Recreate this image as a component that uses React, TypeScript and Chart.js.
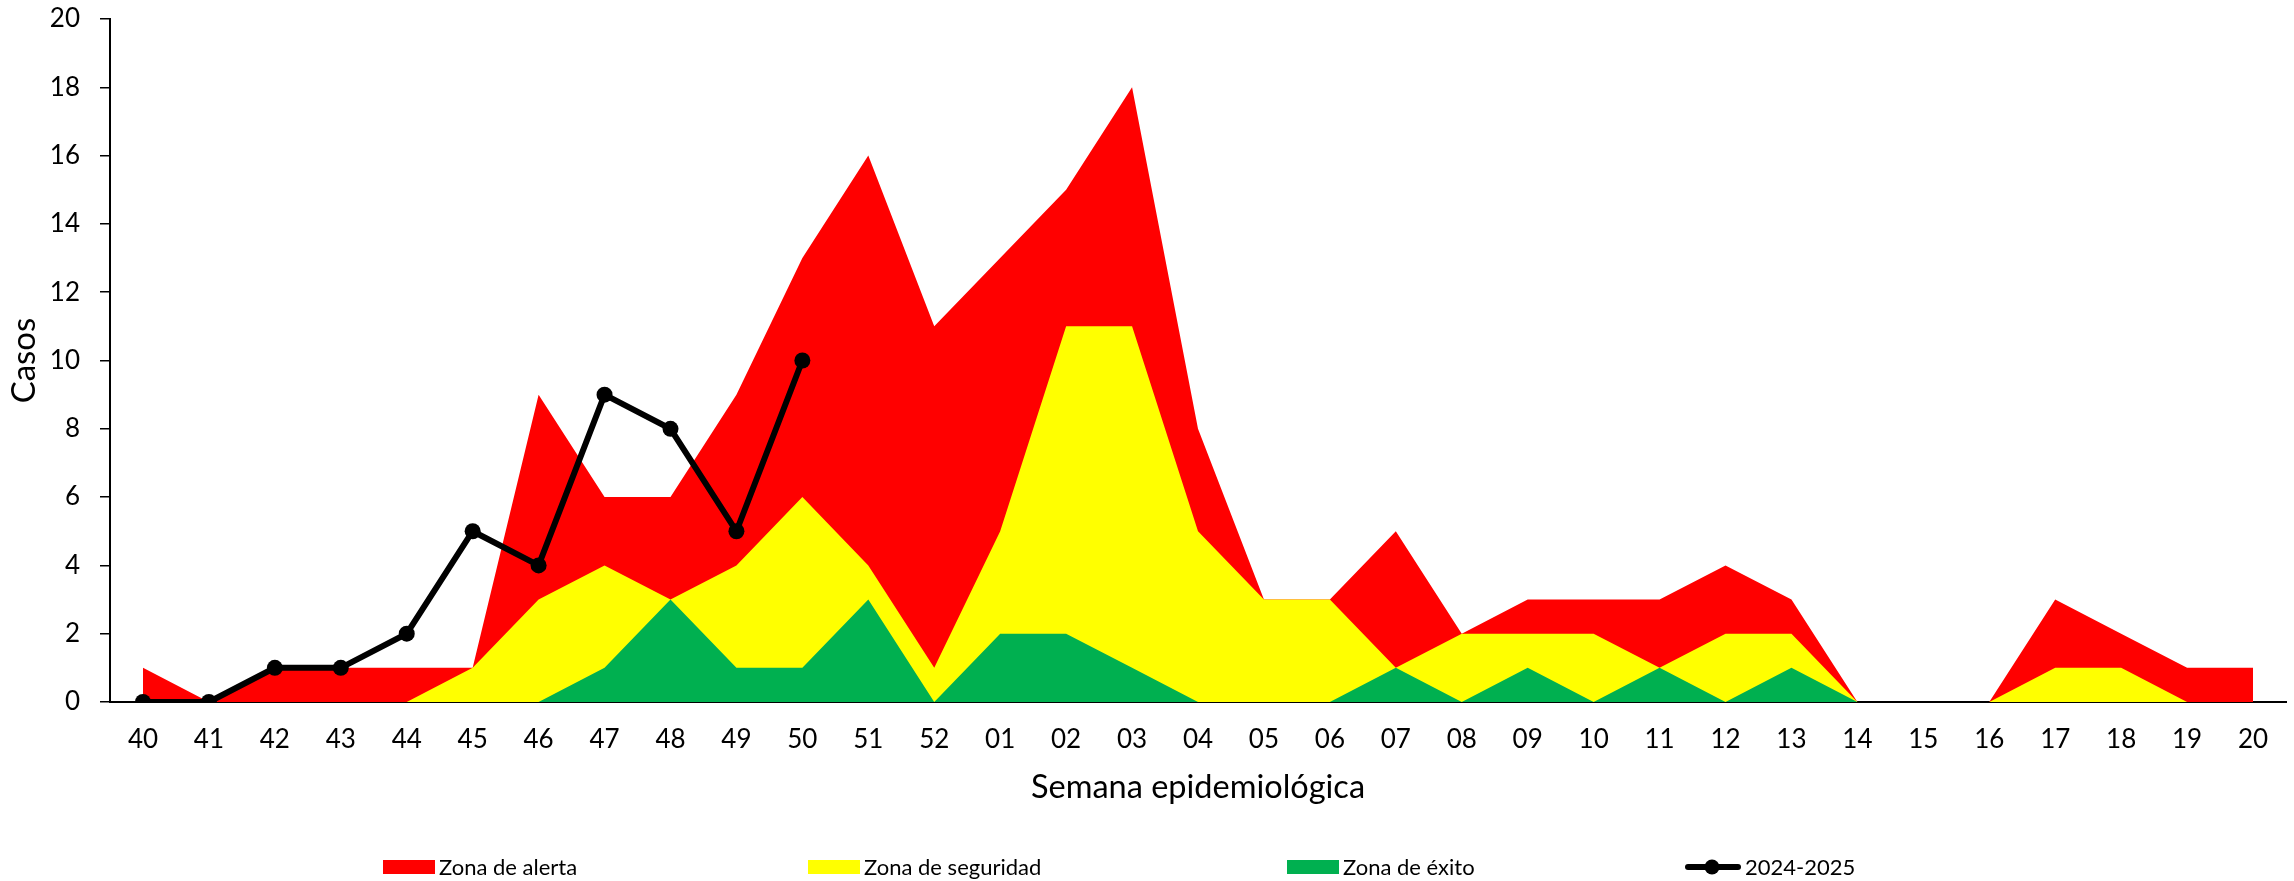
import React, { useEffect, useRef } from "react";
import { Chart, registerables } from "chart.js";

Chart.register(...registerables);

const weeks = [
  "40", "41", "42", "43", "44", "45", "46", "47", "48", "49", "50", "51", "52",
  "01", "02", "03", "04", "05", "06", "07", "08", "09", "10", "11", "12", "13",
  "14", "15", "16", "17", "18", "19", "20",
];

const zonaAlerta = [1, 0, 1, 1, 1, 1, 9, 6, 6, 9, 13, 16, 11, 13, 15, 18, 8, 3, 3, 5, 2, 3, 3, 3, 4, 3, 0, 0, 0, 3, 2, 1, 1];
const zonaSeguridad = [0, 0, 0, 0, 0, 1, 3, 4, 3, 4, 6, 4, 1, 5, 11, 11, 5, 3, 3, 1, 2, 2, 2, 1, 2, 2, 0, 0, 0, 1, 1, 0, 0];
const zonaExito = [0, 0, 0, 0, 0, 0, 0, 1, 3, 1, 1, 3, 0, 2, 2, 1, 0, 0, 0, 1, 0, 1, 0, 1, 0, 1, 0, 0, 0, 0, 0, 0, 0];
const temporada = [0, 0, 1, 1, 2, 5, 4, 9, 8, 5, 10, null, null, null, null, null, null, null, null, null, null, null, null, null, null, null, null, null, null, null, null, null, null];

const yTicks = [0, 2, 4, 6, 8, 10, 12, 14, 16, 18, 20];

const FONT = "Lato, 'Open Sans', sans-serif";

const legendPlugin = {
  id: "customLegend",
  afterDraw(chart: any) {
    const ctx = chart.ctx;
    const y = 867;
    const starts = [383, 808, 1287, 1685];
    const items = [
      { label: "Zona de alerta", color: "#FF0000", type: "box" },
      { label: "Zona de seguridad", color: "#FFFF00", type: "box" },
      { label: "Zona de éxito", color: "#00B050", type: "box" },
      { label: "2024-2025", color: "#000000", type: "line" },
    ];
    ctx.save();
    ctx.font = `22px ${FONT}`;
    ctx.textBaseline = "middle";
    ctx.textAlign = "left";
    items.forEach((it, i) => {
      const x = starts[i];
      if (it.type === "box") {
        ctx.fillStyle = it.color;
        ctx.fillRect(x, y - 7, 52, 14);
      } else {
        ctx.strokeStyle = it.color;
        ctx.lineWidth = 6;
        ctx.lineCap = "round";
        ctx.beginPath();
        ctx.moveTo(x + 3, y);
        ctx.lineTo(x + 53, y);
        ctx.stroke();
        ctx.fillStyle = it.color;
        ctx.beginPath();
        ctx.arc(x + 27, y, 7.5, 0, Math.PI * 2);
        ctx.fill();
      }
      ctx.fillStyle = "#000";
      ctx.fillText(it.label, x + (it.type === "box" ? 56 : 60), y + 1);
    });
    ctx.restore();
  },
};

export default function App() {
  const ref = useRef<HTMLCanvasElement | null>(null);

  useEffect(() => {
    document.body.style.margin = "0";
    document.body.style.overflow = "hidden";
    if (!ref.current) return;
    const chart = new Chart(ref.current, {
      type: "line",
      data: {
        labels: weeks,
        datasets: [
          {
            label: "2024-2025",
            data: temporada,
            borderColor: "#000",
            backgroundColor: "#000",
            borderWidth: 6,
            pointRadius: 8,
            pointBackgroundColor: "#000",
            pointBorderWidth: 0,
            fill: false,
            tension: 0,
            spanGaps: false,
            order: 0,
          },
          {
            label: "Zona de éxito",
            data: zonaExito,
            borderWidth: 0,
            borderColor: "rgba(0,0,0,0)",
            backgroundColor: "#00B050",
            pointRadius: 0,
            fill: "origin",
            tension: 0,
            order: 1,
          },
          {
            label: "Zona de seguridad",
            data: zonaSeguridad,
            borderWidth: 0,
            borderColor: "rgba(0,0,0,0)",
            backgroundColor: "#FFFF00",
            pointRadius: 0,
            fill: "origin",
            tension: 0,
            order: 2,
          },
          {
            label: "Zona de alerta",
            data: zonaAlerta,
            borderWidth: 0,
            borderColor: "rgba(0,0,0,0)",
            backgroundColor: "#FF0000",
            pointRadius: 0,
            fill: "origin",
            tension: 0,
            order: 3,
          },
        ],
      },
      options: {
        responsive: false,
        animation: false,
        devicePixelRatio: 1,
        layout: { padding: { left: 0, right: 6, top: 19, bottom: 69 } },
        plugins: {
          legend: { display: false },
          tooltip: { enabled: false },
        },
        scales: {
          x: {
            offset: true,
            z: 1,
            grid: { display: false, drawTicks: false },
            border: { display: true, color: "#000", width: 2 },
            ticks: {
              color: "#000",
              font: { family: FONT, size: 26 },
              padding: 22,
              maxRotation: 0,
              autoSkip: false,
            },
            title: {
              display: true,
              text: "Semana epidemiológica",
              color: "#000",
              font: { family: FONT, size: 32.5 },
              padding: { top: 0, bottom: 5 },
            },
            afterFit: (s: any) => {
              s.height = 110;
              s.paddingLeft = 0;
              s.paddingRight = 0;
            },
          },
          y: {
            min: 0,
            max: 20,
            z: 1,
            afterBuildTicks: (s: any) => {
              s.ticks = yTicks.map((v) => ({ value: v }));
            },
            grid: {
              display: true,
              drawOnChartArea: false,
              drawTicks: true,
              tickLength: 10,
              color: "#000",
              lineWidth: 1.5,
            },
            border: { display: true, color: "#000", width: 2 },
            ticks: {
              color: "#000",
              font: { family: FONT, size: 26 },
              padding: 20,
            },
            title: {
              display: true,
              text: "Casos",
              color: "#000",
              font: { family: FONT, size: 33 },
              padding: { top: 5, bottom: 0 },
            },
            afterFit: (s: any) => {
              s.width = 110;
              s.paddingTop = 0;
              s.paddingBottom = 0;
            },
          },
        },
      },
      plugins: [legendPlugin],
    });
    return () => chart.destroy();
  }, []);

  return (
    <div style={{ width: 2294, height: 881 }}>
      <canvas ref={ref} width={2294} height={881} style={{ display: "block" }} />
    </div>
  );
}
